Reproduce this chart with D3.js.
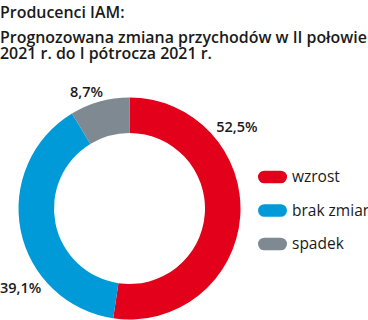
<!DOCTYPE html>
<html>
<head>
<meta charset="utf-8">
<script src="https://cdn.jsdelivr.net/npm/d3@7"></script>
<style>
  body { margin: 0; background: #fff; }
  svg { display: block; font-family: "Open Sans", sans-serif; }
</style>
</head>
<body>
<div id="chart"></div>
<script>
// --- Datos ---
const categories = ["wzrost", "brak zmian", "spadek"];
const values = [52.5, 39.1, 8.7];
const valueLabels = ["52,5%", "39,1%", "8,7%"];
const colors = ["#e2001a", "#009ad9", "#7e8992"];
const titleLines = ["Producenci IAM:", "Prognozowana zmiana przychodów w II połowie", "2021 r. do I pótrocza 2021 r."];

const width = 368, height = 320;
const svg = d3.select("#chart").append("svg")
    .attr("width", width)
    .attr("height", height);

// Tytuł (fuente algo estrecha: se comprime horizontalmente)
const titleBase = [18, 43, 59];
const titleG = svg.append("g");
const title = titleG.selectAll("text")
    .data(titleLines)
    .enter().append("text")
    .attr("x", 0)
    .attr("y", (d, i) => titleBase[i])
    .text(d => d)
    .style("font-size", "17px")
    .style("font-weight", 600)
    .style("fill", "#1a1a1a");

const longW = title.nodes()[1].getComputedTextLength();
titleG.attr("transform", `scale(${(367 / longW).toFixed(4)},1)`);

// Donut
const cx = 129.5, cy = 208.5;
const outerR = 111, innerR = 75.5;

const pie = d3.pie().sort(null).value(d => d);
const arc = d3.arc().innerRadius(innerR).outerRadius(outerR);
const arcs = pie(values);

const g = svg.append("g").attr("transform", `translate(${cx},${cy})`);
g.selectAll("path")
    .data(arcs)
    .enter().append("path")
    .attr("d", arc)
    .attr("fill", (d, i) => colors[i]);

// Etiquetas de valores (fuera del anillo, como en el original)
const labelPos = d => {
    const a = d.index === 0 ? d.startAngle + 0.92
            : d.index === 1 ? d.startAngle + 0.79
            : (d.startAngle + d.endAngle) / 2 - 0.08;
    const r = d.index === 2 ? outerR + 13.5 : outerR + 24;
    return d3.pointRadial(a, r);
};
g.selectAll(".val")
    .data(arcs)
    .enter().append("text")
    .attr("class", "val")
    .attr("x", d => labelPos(d)[0])
    .attr("y", d => labelPos(d)[1])
    .attr("text-anchor", "middle")
    .attr("dy", "0.35em")
    .text((d, i) => valueLabels[i])
    .style("font-size", "14.5px")
    .style("font-weight", 600)
    .style("fill", "#1a1a1a");

// Leyenda
const legendY = d3.scalePoint().domain(categories).range([177, 244]);
const legend = svg.append("g").selectAll("g")
    .data(categories)
    .enter().append("g")
    .attr("transform", d => `translate(258,${legendY(d)})`);
legend.append("rect")
    .attr("x", 0).attr("y", -6.3)
    .attr("width", 29).attr("height", 12.6)
    .attr("rx", 6.3)
    .attr("fill", (d, i) => colors[i]);
legend.append("text")
    .attr("x", 34)
    .attr("dy", "0.35em")
    .text(d => d)
    .style("font-size", "15.5px")
    .style("fill", "#1a1a1a");
</script>
</body>
</html>
